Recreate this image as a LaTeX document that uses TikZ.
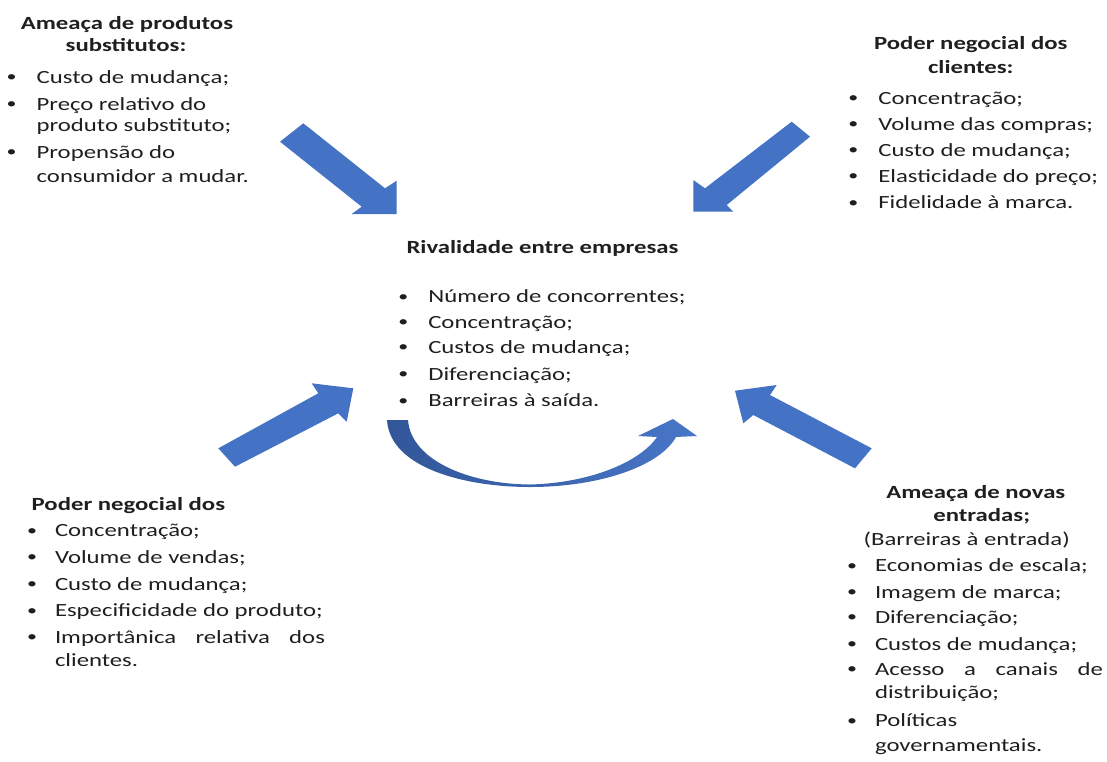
\documentclass[tikz,border=0pt]{standalone}
\usepackage{fontspec}
\setmainfont{Carlito}
\begin{document}
\begin{tikzpicture}[x=1pt,y=-1pt,
  txt/.style={anchor=base west,inner sep=0pt,outer sep=0pt,text=black!88,
    font=\fontsize{18.6}{22}\selectfont,xscale=1.33},
  ttl/.style={txt,anchor=base,font=\fontsize{18.6}{22}\selectfont\bfseries},
  sub/.style={txt,anchor=base},
  dot/.style={txt,anchor=base,font=\fontsize{15}{18}\selectfont,yshift=1.6pt},
  blockarrow/.style={fill={rgb,255:red,68;green,114;blue,196},draw=none}]
\useasboundingbox (0,0) rectangle (1107,761);

% ---- threat of substitutes (top left)
\node[ttl] (s-t1) at (127,29.3) {Ameaça de produtos};
\node[ttl] (s-t2) at (126,51.7) {substitutos:};
\node[dot] (s-d1) at (11.7,83.3) {•};
\node[txt] (s-1)  at (36.7,83.3) {Custo de mudança;};
\node[dot] (s-d2) at (11.7,110) {•};
\node[txt] (s-2a) at (36.7,110) {Preço relativo do};
\node[txt] (s-2b) at (36.7,131.7) {produto substituto;};
\node[dot] (s-d3) at (11.7,158.3) {•};
\node[txt] (s-3a) at (36.7,158.3) {Propensão do};
\node[txt] (s-3b) at (36.7,182.7) {consumidor a mudar.};

% ---- bargaining power of customers (top right)
\node[ttl] (c-t1) at (970.8,49.3) {Poder negocial dos};
\node[ttl] (c-t2) at (970.8,73.3) {clientes:};
\node[dot] (c-d1) at (853.3,104.3) {•};
\node[txt] (c-1)  at (878.3,104.3) {Concentração;};
\node[dot] (c-d2) at (853.3,130.5) {•};
\node[txt] (c-2)  at (878.3,130.5) {Volume das compras;};
\node[dot] (c-d3) at (853.3,156) {•};
\node[txt] (c-3)  at (878.3,156) {Custo de mudança;};
\node[dot] (c-d4) at (853.3,182.2) {•};
\node[txt] (c-4)  at (878.3,182.2) {Elasticidade do preço;};
\node[dot] (c-d5) at (853.3,208.8) {•};
\node[txt] (c-5)  at (878.3,208.8) {Fidelidade à marca.};

% ---- rivalry (centre)
\node[ttl] (r-t)  at (542.5,253.3) {Rivalidade entre empresas};
\node[dot] (r-d1) at (403.3,302.7) {•};
\node[txt] (r-1)  at (428.3,302.7) {Número de concorrentes;};
\node[dot] (r-d2) at (403.3,328.3) {•};
\node[txt] (r-2)  at (428.3,328.3) {Concentração;};
\node[dot] (r-d3) at (403.3,353.3) {•};
\node[txt] (r-3)  at (428.3,353.3) {Custos de mudança;};
\node[dot] (r-d4) at (403.3,380) {•};
\node[txt] (r-4)  at (428.3,380) {Diferenciação;};
\node[dot] (r-d5) at (403.3,406.7) {•};
\node[txt] (r-5)  at (428.3,406.7) {Barreiras à saída.};

% ---- bargaining power of suppliers (bottom left)
\node[txt,font=\fontsize{18.6}{22}\selectfont\bfseries] (f-t) at (31.7,510) {Poder negocial dos};
\node[dot] (f-d1) at (32,536.7) {•};
\node[txt] (f-1)  at (55,536.7) {Concentração;};
\node[dot] (f-d2) at (32,563.3) {•};
\node[txt] (f-2)  at (55,563.3) {Volume de vendas;};
\node[dot] (f-d3) at (32,590) {•};
\node[txt] (f-3)  at (55,590) {Custo de mudança;};
\node[dot] (f-d4) at (32,616.7) {•};
\node[txt] (f-4)  at (55,616.7) {Especificidade do produto;};
\node[dot] (f-d5) at (32,643.3) {•};
\node[txt] (f-5a) at (55,643.3) {\makebox[203pt][s]{Importânica\hfill relativa\hfill dos}};
\node[txt] (f-5b) at (55,666.7) {clientes.};

% ---- threat of new entrants (bottom right)
\node[ttl] (e-t1) at (975.8,498.3) {Ameaça de novas};
\node[ttl] (e-t2) at (981.7,521.7) {entradas;};
\node[sub] (e-t3) at (966.7,545) {(Barreiras à entrada)};
\node[dot] (e-d1) at (852,571.7) {•};
\node[txt] (e-1)  at (875,571.7) {Economias de escala;};
\node[dot] (e-d2) at (852,598.3) {•};
\node[txt] (e-2)  at (875,598.3) {Imagem de marca;};
\node[dot] (e-d3) at (852,623.3) {•};
\node[txt] (e-3)  at (875,623.3) {Diferenciação;};
\node[dot] (e-d4) at (852,650) {•};
\node[txt] (e-4)  at (875,650) {Custos de mudança;};
\node[dot] (e-d5) at (852,675) {•};
\node[txt] (e-5a) at (875,675) {\makebox[171.4pt][s]{Acesso\hfill a\hfill canais\hfill de}};
\node[txt] (e-5b) at (875,698.3) {distribuição;};
\node[dot] (e-d6) at (852,726.7) {•};
\node[txt] (e-6a) at (875,726.7) {Políticas};
\node[txt] (e-6b) at (875,751.7) {governamentais.};

% ---- block arrows pointing at the centre
\fill[blockarrow] (280,141.7) -- (303.3,123.3) -- (385,188.3) -- (396.7,180.7)
  -- (396.7,214) -- (351.7,214) -- (361.7,206.7) -- cycle;
\fill[blockarrow] (791.7,121.7) -- (810,136.7) -- (726.7,205) -- (733.3,211.7)
  -- (693.3,211.7) -- (693.3,180) -- (705,188.3) -- cycle;
\fill[blockarrow] (218.3,448.3) -- (318.3,393.3) -- (311.7,383.3) -- (353.3,388.3)
  -- (346.7,421.7) -- (338.3,413.3) -- (235,466.7) -- cycle;
\fill[blockarrow] (871.7,448.3) -- (770,395) -- (776.7,385) -- (735,390.7)
  -- (743.3,423.3) -- (753.3,415) -- (855,468.3) -- cycle;

% ---- curved arrow under the rivalry list
\shade[left color={rgb,255:red,50;green,86;blue,152},right color={rgb,255:red,72;green,118;blue,200}]
  (387,420) .. controls (390,468) and (465,487) .. (530,487)
  .. controls (600,487) and (660,466) .. (676,437)
  -- (697,436) -- (673,419) -- (638,436) -- (657,437)
  .. controls (640,462) and (590,483) .. (530,484.5)
  .. controls (468,484) and (411,460) .. (408,420) -- cycle;
\end{tikzpicture}
\end{document}
